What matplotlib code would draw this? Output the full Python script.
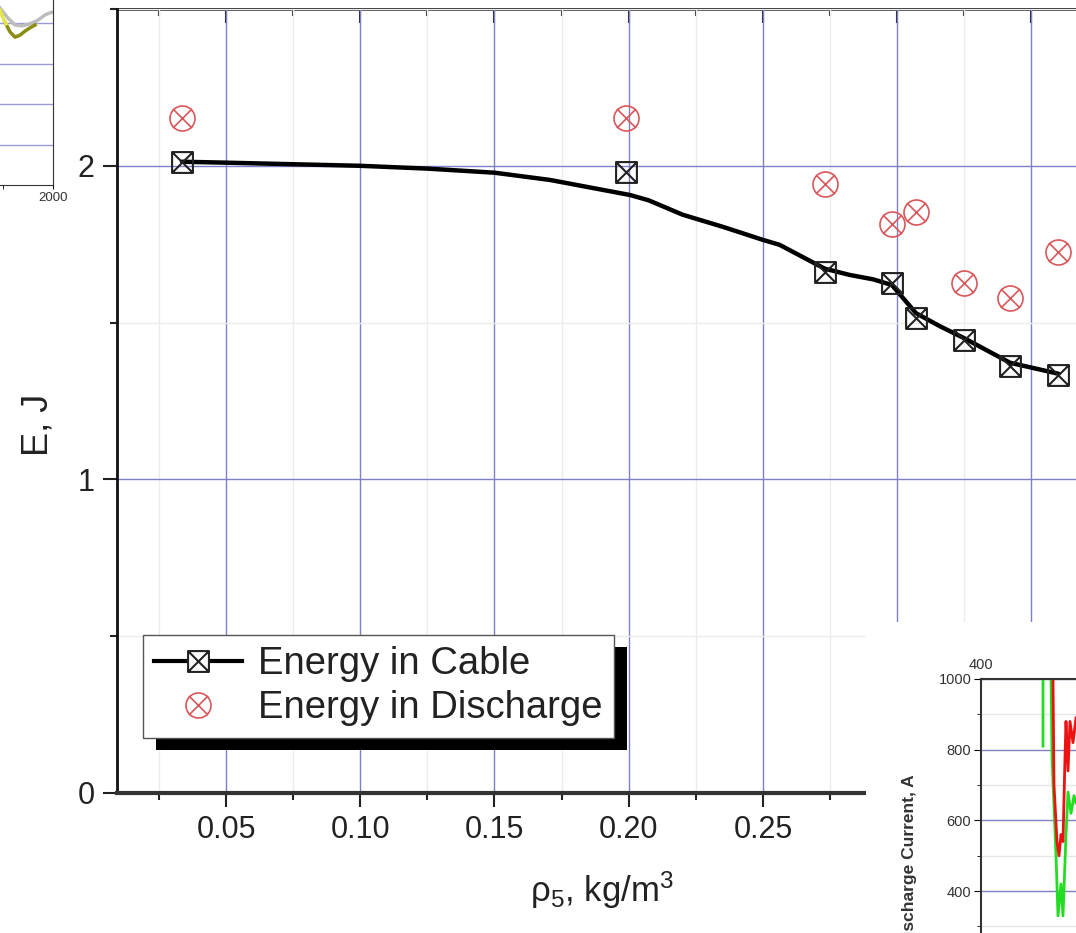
import numpy as np
import matplotlib
matplotlib.use('Agg')
import matplotlib.pyplot as plt
from matplotlib.path import Path
from matplotlib.patches import Rectangle
from matplotlib.lines import Line2D
from matplotlib.ticker import MultipleLocator, FormatStrFormatter, NullFormatter
from matplotlib.transforms import IdentityTransform

plt.rcParams['font.family'] = ['Liberation Sans', 'DejaVu Sans']
plt.rcParams['mathtext.default'] = 'regular'

# main chart data
rho_cable = [0.0336, 0.199, 0.273, 0.298, 0.307, 0.325, 0.342, 0.360]
e_cable = [2.013, 1.981, 1.662, 1.627, 1.515, 1.445, 1.362, 1.333]
rho_dis = [0.0336, 0.199, 0.273, 0.298, 0.307, 0.325, 0.342, 0.360]
e_dis = [2.153, 2.153, 1.943, 1.815, 1.853, 1.627, 1.579, 1.726]
# smooth fit line as drawn in the figure
fit_rho = [0.0336, 0.05, 0.10, 0.125, 0.15, 0.1706, 0.2004, 0.2074, 0.2201, 0.2352,
           0.2499, 0.2562, 0.273, 0.2823, 0.291, 0.298, 0.302, 0.307, 0.316,
           0.325, 0.342, 0.360]
fit_e = [2.013, 2.010, 2.000, 1.991, 1.978, 1.955, 1.907, 1.890, 1.844, 1.805,
         1.764, 1.748, 1.672, 1.652, 1.638, 1.620, 1.580, 1.530, 1.488,
         1.450, 1.372, 1.337]

# fragment of neighbouring figure, bottom right
cur_t_green = [431, 431, None, 435, 435.5, 437.5, 438.5, 440, 441, 442.5, 443.5, 445, 446.5, 447.5]
cur_green = [1000, 810, None, 1000, 780, 500, 330, 420, 330, 560, 680, 620, 670, 650]
cur_t_red = [436, 436.5, 438, 439, 440, 441, 442, 442.5, 443.5, 444.5, 446, 447.5]
cur_red = [1000, 700, 540, 500, 560, 540, 780, 880, 740, 880, 820, 890]

# fragment of neighbouring figure, top left
tl_x_gray = [1894, 1910, 1924, 1938, 1954, 1970, 1984, 1994, 2000]
tl_gray = [4.37, 4.12, 3.95, 3.93, 3.98, 4.07, 4.20, 4.25, 4.27]
tl_x_olive = [1904, 1914, 1924, 1934, 1944, 1954, 1964]
tl_olive = [4.02, 3.78, 3.65, 3.70, 3.80, 3.88, 3.95]
tl_x_yellow = [1894, 1900, 1906]
tl_yellow = [4.32, 4.12, 3.98]

W, H = 1076, 933
fig = plt.figure(figsize=(W / 100, H / 100), dpi=100)

box_x = Path([(-1, -1), (1, -1), (1, 1), (-1, 1), (-1, -1), (-1, -1), (1, 1), (-1, 1), (1, -1)],
             [Path.MOVETO, Path.LINETO, Path.LINETO, Path.LINETO, Path.CLOSEPOLY,
              Path.MOVETO, Path.LINETO, Path.MOVETO, Path.LINETO])
circ_x = Path.make_compound_path(
    Path.unit_circle(),
    Path([(-.75, -.75), (.75, .75), (-.75, .75), (.75, -.75)],
         [Path.MOVETO, Path.LINETO, Path.MOVETO, Path.LINETO]))
red = '#d9575a'

ax = fig.add_axes([117 / W, 140 / H, 995 / W, 784 / H])
ax.set_xlim(0.0094, 0.38)
ax.set_ylim(0, 2.5)
ax.set_axisbelow(True)
ax.xaxis.set_major_locator(MultipleLocator(0.05))
ax.xaxis.set_minor_locator(MultipleLocator(0.025))
ax.xaxis.set_major_formatter(FormatStrFormatter('%.2f'))
ax.yaxis.set_major_locator(MultipleLocator(1))
ax.yaxis.set_minor_locator(MultipleLocator(0.5))
ax.yaxis.set_major_formatter(FormatStrFormatter('%d'))
ax.grid(which='major', color='#7f7fc8', lw=1)
ax.grid(which='minor', color='#ececf0', lw=1)
ax.tick_params(which='major', direction='out', length=10, width=1.5, labelsize=22,
               labelcolor='#222222', color='#222222', pad=6)
ax.tick_params(which='minor', direction='out', length=5, width=1.5, color='#222222')
ax.spines['top'].set_visible(False)
ax.spines['right'].set_visible(False)
ax.spines['left'].set_linewidth(2)
ax.spines['left'].set_color('#111111')
ax.spines['bottom'].set_linewidth(3)
ax.spines['bottom'].set_color('#333333')

sec = ax.secondary_xaxis('top')
sec.xaxis.set_major_locator(MultipleLocator(0.05))
sec.xaxis.set_minor_locator(MultipleLocator(0.025))
sec.tick_params(which='major', direction='in', length=10, width=1.5, labeltop=False, color='#222222')
sec.tick_params(which='minor', direction='in', length=5, width=1.5, color='#222222')
sec.spines['top'].set_linewidth(2)
sec.spines['top'].set_color('#333333')

ax.plot(fit_rho, fit_e, color='k', lw=3.2, solid_capstyle='round', solid_joinstyle='round', zorder=3)
ax.plot(rho_cable, e_cable, ls='none', marker=box_x, ms=15, mfc='none', mec='#222222', mew=1.5, zorder=4)
ax.plot(rho_dis, e_dis, ls='none', marker=circ_x, ms=18, mfc='none', mec=red, mew=1.2, zorder=4)

ax.set_ylabel('E, J', fontsize=26, color='#222222')
ax.yaxis.set_label_coords(-0.062, 0.469)
ax.set_xlabel('ρ$_5$, kg/m$^3$', fontsize=25, color='#222222')
ax.xaxis.set_label_coords(0.487, -0.098)

handles = [Line2D([], [], color='k', lw=3, marker=box_x, ms=15, mfc='white', mec='#222222', mew=1.5),
           Line2D([], [], ls='none', marker=circ_x, ms=18, mfc='none', mec=red, mew=1.2)]
leg = ax.legend(handles, ['Energy in Cable', 'Energy in Discharge'], loc='upper left',
                bbox_to_anchor=(143 / W, (H - 635) / H), bbox_transform=fig.transFigure,
                borderaxespad=0, fontsize=27.5, fancybox=False, framealpha=1,
                edgecolor='#555555', handlelength=2.3, handletextpad=0.4,
                labelspacing=0.2, borderpad=0.3)
leg.set_zorder(6)
leg.get_frame().set_linewidth(1)
for t in leg.get_texts():
    t.set_color('#222222')

fig.canvas.draw()
bb = leg.get_window_extent()
shadow = Rectangle((bb.x0 + 13, bb.y0 - 12), bb.width, bb.height, transform=IdentityTransform(),
                   facecolor='black', edgecolor='none', zorder=5.5, clip_on=False)
ax.add_patch(shadow)

# white cover + fragment of the neighbouring figure (bottom right)
fig.add_artist(Rectangle((866 / W, 0), (W - 866) / W, (H - 622) / H, transform=fig.transFigure,
                         facecolor='white', edgecolor='none', zorder=1))
ax2 = fig.add_axes([981 / W, -99.5 / H, 400 / W, 353.5 / H], zorder=2)
ax2.set_xlim(400, 600)
ax2.set_ylim(0, 1000)
ax2.set_axisbelow(True)
ax2.xaxis.tick_top()
ax2.set_xticks([400, 500, 600])
ax2.tick_params(axis='x', direction='in', length=3, pad=5, labelsize=10.5, labelcolor='#333333')
ax2.yaxis.set_major_locator(MultipleLocator(200))
ax2.yaxis.set_minor_locator(MultipleLocator(100))
ax2.tick_params(axis='y', which='major', direction='out', length=5, labelsize=10.5, labelcolor='#333333', pad=2)
ax2.tick_params(axis='y', which='minor', direction='out', length=3)
ax2.grid(axis='y', which='major', color='#8080c0', lw=1)
ax2.grid(axis='y', which='minor', color='#e6e6e6', lw=1)
for s in ['left', 'top']:
    ax2.spines[s].set_linewidth(1.5)
    ax2.spines[s].set_color('#333333')
ax2.plot(cur_t_green, cur_green, color='#22dd22', lw=2)
ax2.plot(cur_t_red, cur_red, color='#ee1111', lw=2)
ax2.set_ylabel('Discharge Current, A', fontsize=12.5, fontweight='bold', color='#333333')
ax2.yaxis.set_label_coords(-0.16, 0.485)

# fragment of the neighbouring figure (top left)
ax3 = fig.add_axes([-200 / W, (H - 185) / H, 253 / W, 300 / H])
ax3.set_xlim(1494, 2000)
ax3.set_ylim(0, 300 / 40.5)
ax3.set_xticks([2000])
ax3.xaxis.set_minor_locator(MultipleLocator(100))
ax3.tick_params(axis='x', which='both', direction='out', length=3, labelsize=9.5, labelcolor='#333333', pad=2)
ax3.set_yticks([1, 2, 3, 4, 5, 6, 7])
ax3.yaxis.set_major_formatter(NullFormatter())
ax3.tick_params(axis='y', length=0)
ax3.grid(axis='y', color='#9a9ad8', lw=1)
ax3.spines['top'].set_visible(False)
ax3.spines['left'].set_visible(False)
ax3.spines['right'].set_color('#333333')
ax3.spines['bottom'].set_color('#333333')
ax3.plot(tl_x_gray, tl_gray, color='#bdbdbd', lw=2.5)
ax3.plot(tl_x_olive, tl_olive, color='#8c8c12', lw=2.5)
ax3.plot(tl_x_yellow, tl_yellow, color='#e6e64a', lw=2.5)

fig.savefig('out.png', dpi=100)
